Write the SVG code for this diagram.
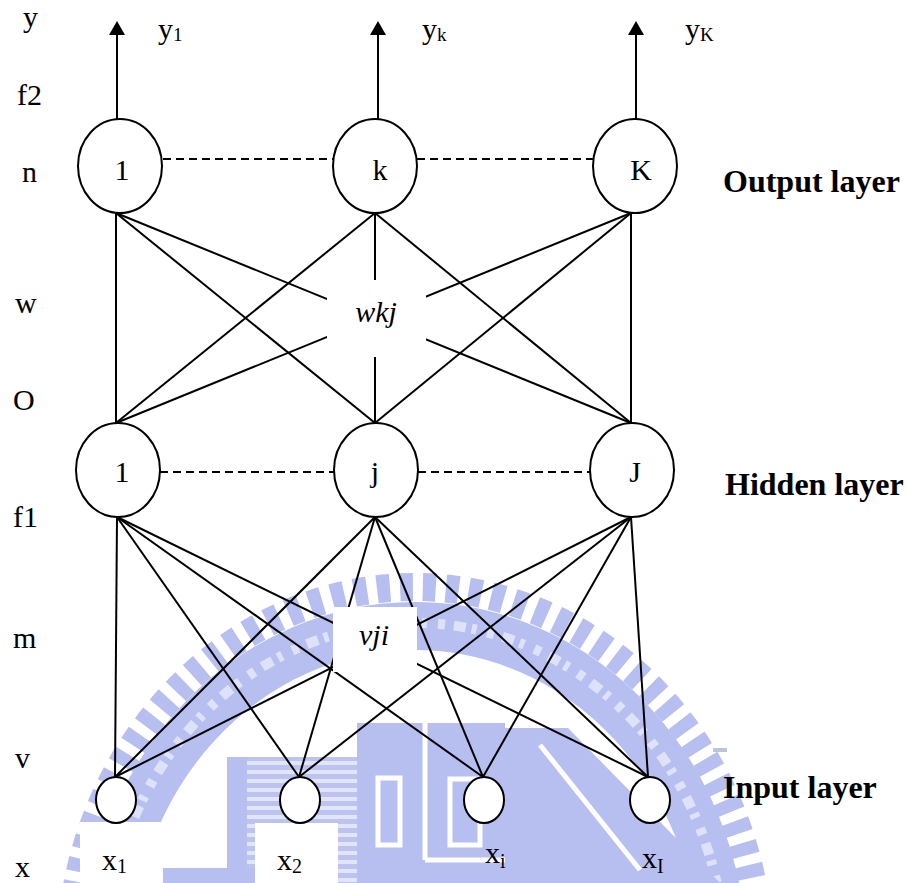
<svg xmlns="http://www.w3.org/2000/svg" width="907" height="883" viewBox="0 0 907 883">
<style>
.conn{stroke:#000;stroke-width:2;fill:none}
.dash{stroke-dasharray:8 5}
.node{fill:#fff;stroke:#000;stroke-width:2}
.t{font-family:"Liberation Serif","Times New Roman",serif;font-size:30px;fill:#000}
.c{text-anchor:middle}
.i{font-style:italic}
.b{font-weight:bold;font-size:32px}
.wm{fill:#aab4ee}
.wmline{fill:none;stroke:#aab4ee}
.mask{fill:#fff}
</style>
<defs>
<marker id="arr" markerUnits="userSpaceOnUse" markerWidth="14" markerHeight="16" refX="5" refY="8" orient="auto">
<path d="M0,0 L14,8 L0,16 z" fill="#000"/>
</marker>
<pattern id="stripes" patternUnits="userSpaceOnUse" width="10" height="9">
<rect width="10" height="9" fill="#dde1f7"/>
<rect width="10" height="5" fill="#b0b9ec"/>
</pattern>
</defs>
<rect width="907" height="883" fill="#fff"/>

<g id="watermark" opacity="0.85">
<ellipse class="wmline" cx="415" cy="961" rx="308" ry="335" stroke-width="48"/>
<ellipse cx="415" cy="961" rx="310" ry="338" fill="none" stroke="#d8ddf8" stroke-width="10" stroke-dasharray="7 9 12 6 5 11"/>
<ellipse class="wmline" cx="415" cy="961" rx="345" ry="374" stroke-width="28" stroke-dasharray="13 10"/>
<rect x="227" y="757" width="130" height="126" fill="url(#stripes)"/>
<rect class="wm" x="227" y="757" width="20" height="126"/>
<rect class="wm" x="357" y="723" width="148" height="160"/>
<polygon class="wm" points="505,728 568,728 720,883 505,883"/>
<rect class="wm" x="163" y="868" width="100" height="15"/>
<line x1="425" y1="723" x2="425" y2="860" stroke="#fff" stroke-width="5"/>
<line x1="425" y1="860" x2="505" y2="860" stroke="#fff" stroke-width="5"/>
<rect x="378" y="778" width="22" height="67" fill="none" stroke="#fff" stroke-width="5"/>
<rect x="450" y="779" width="30" height="66" fill="none" stroke="#fff" stroke-width="5"/>
<line x1="540" y1="745" x2="640" y2="870" stroke="#fff" stroke-width="5"/>
<rect x="713" y="748" width="14" height="4" fill="#b4bad2"/>
</g>

<g id="connectors">
<line class="conn" x1="116" y1="423" x2="116" y2="213"/>
<line class="conn" x1="116" y1="423" x2="375" y2="213"/>
<line class="conn" x1="116" y1="423" x2="631" y2="213"/>
<line class="conn" x1="375" y1="423" x2="116" y2="213"/>
<line class="conn" x1="375" y1="423" x2="375" y2="213"/>
<line class="conn" x1="375" y1="423" x2="631" y2="213"/>
<line class="conn" x1="631" y1="423" x2="116" y2="213"/>
<line class="conn" x1="631" y1="423" x2="375" y2="213"/>
<line class="conn" x1="631" y1="423" x2="631" y2="213"/>

<line class="conn" x1="115" y1="777" x2="117" y2="517"/>
<line class="conn" x1="115" y1="777" x2="375" y2="517"/>
<line class="conn" x1="115" y1="777" x2="631" y2="517"/>
<line class="conn" x1="299" y1="777" x2="117" y2="517"/>
<line class="conn" x1="299" y1="777" x2="375" y2="517"/>
<line class="conn" x1="299" y1="777" x2="631" y2="517"/>
<line class="conn" x1="483" y1="777" x2="117" y2="517"/>
<line class="conn" x1="483" y1="777" x2="375" y2="517"/>
<line class="conn" x1="483" y1="777" x2="631" y2="517"/>
<line class="conn" x1="648" y1="777" x2="117" y2="517"/>
<line class="conn" x1="648" y1="777" x2="375" y2="517"/>
<line class="conn" x1="648" y1="777" x2="631" y2="517"/>

<line class="conn" x1="117" y1="119" x2="117" y2="30" marker-end="url(#arr)"/>
<line class="conn" x1="378" y1="119" x2="378" y2="30" marker-end="url(#arr)"/>
<line class="conn" x1="636" y1="119" x2="636" y2="30" marker-end="url(#arr)"/>

<line class="conn dash" x1="163" y1="159" x2="333" y2="159"/>
<line class="conn dash" x1="417" y1="159" x2="593" y2="159"/>
<line class="conn dash" x1="160" y1="472" x2="334" y2="472"/>
<line class="conn dash" x1="418" y1="472" x2="590" y2="472"/>
</g>

<g id="label-boxes">
<rect class="mask" x="327" y="280" width="99" height="77"/>
<rect class="mask" x="333" y="607" width="84" height="65"/>
<polygon class="mask" points="80,822 225,822 225,868 163,868 163,883 80,883"/>
<rect class="mask" x="255" y="823" width="83" height="60"/>
</g>

<g id="out1"><ellipse class="node" cx="120" cy="166" rx="42" ry="47"/><text class="t c" x="122" y="180">1</text></g>
<g id="outk"><ellipse class="node" cx="375" cy="166" rx="42" ry="47"/><text class="t c" x="380" y="180">k</text></g>
<g id="outK"><ellipse class="node" cx="635" cy="166" rx="42" ry="47"/><text class="t c" x="641" y="180">K</text></g>

<g id="hid1"><ellipse class="node" cx="118" cy="470" rx="42" ry="47"/><text class="t c" x="122" y="482">1</text></g>
<g id="hidj"><ellipse class="node" cx="376" cy="470" rx="42" ry="47"/><text class="t c" x="375" y="482">j</text></g>
<g id="hidJ"><ellipse class="node" cx="632" cy="470" rx="42" ry="47"/><text class="t c" x="635" y="482">J</text></g>

<g id="in1"><ellipse class="node" cx="116" cy="800" rx="20" ry="23"/></g>
<g id="in2"><ellipse class="node" cx="300" cy="800" rx="20" ry="23"/></g>
<g id="ini"><ellipse class="node" cx="484" cy="800" rx="20" ry="23"/></g>
<g id="inI"><ellipse class="node" cx="650" cy="800" rx="20" ry="23"/></g>

<g id="labels">
<text class="t" x="23" y="27">y</text>
<text class="t" x="17" y="105">f2</text>
<text class="t" x="22" y="182">n</text>
<text class="t" x="15" y="313">w</text>
<text class="t" x="13" y="410">O</text>
<text class="t" x="13" y="527">f1</text>
<text class="t" x="13" y="648">m</text>
<text class="t" x="15" y="768">v</text>
<text class="t" x="15" y="877">x</text>

<text class="t" x="158" y="39">y<tspan font-size="19" dy="2">1</tspan></text>
<text class="t" x="422" y="39">y<tspan font-size="19" dy="2">k</tspan></text>
<text class="t" x="685" y="39">y<tspan font-size="19" dy="2">K</tspan></text>

<text class="t i c" x="376" y="322">wkj</text>
<text class="t i c" x="374" y="645">vji</text>

<text class="t" x="102" y="870">x<tspan font-size="20" dy="3">1</tspan></text>
<text class="t" x="277" y="870">x<tspan font-size="20" dy="3">2</tspan></text>
<text class="t" x="485" y="863">x<tspan font-size="20" dy="5">i</tspan></text>
<text class="t" x="642" y="868">x<tspan font-size="20" dy="5">I</tspan></text>

<text class="t b" x="723" y="192">Output layer</text>
<text class="t b" x="725" y="495">Hidden layer</text>
<text class="t b" x="723" y="798">Input layer</text>
</g>
</svg>
